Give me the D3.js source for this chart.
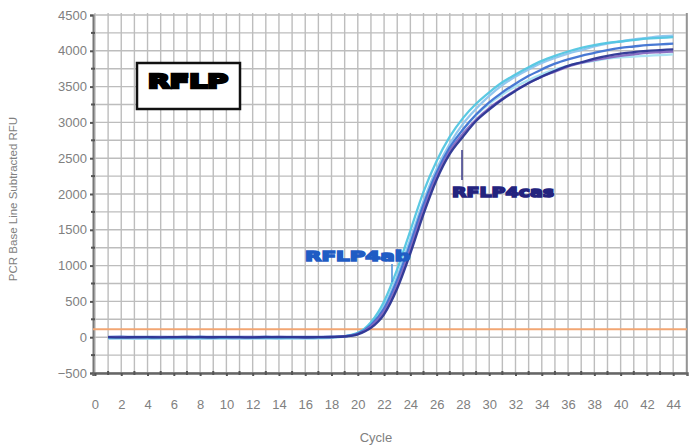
<!DOCTYPE html>
<html><head><meta charset="utf-8">
<script src="https://cdn.jsdelivr.net/npm/d3@7"></script>
<style>body{margin:0;background:#fff}svg{display:block}</style>
</head><body>
<svg id="c" width="696" height="445"></svg>
<script>
const cycles = d3.range(1, 45);
const base = [0,-3,2,0,-2,1,3,0,-1,2,0,-3,1,0,2,-1,0,3,10];
const serA = base.concat([40,130,320,680,1170,1720,2200,2560,2800,3020,3180,3320,3440,3550,3640,3720,3790,3840,3890,3930,3960,3980,4000,4010,4020]);
const serB = [2,0,-2,1,0,3,-1,0,2,1,-2,0,1,3,0,-1,2,1,12].concat([45,150,360,730,1230,1780,2250,2600,2840,3040,3200,3330,3450,3550,3640,3710,3780,3830,3870,3900,3930,3950,3970,3980,3990]);
const serC = [-8,-10,-6,-9,-7,-10,-8,-6,-9,-8,-7,-10,-8,-9,-6,-8,-5,0,15].concat([60,210,500,950,1490,2030,2460,2800,3060,3260,3420,3560,3670,3770,3860,3930,3990,4040,4080,4110,4130,4150,4170,4180,4190]);
const serD = [-15,-12,-14,-16,-13,-15,-12,-14,-15,-13,-16,-14,-12,-15,-13,-14,-10,-4,12].concat([55,180,430,850,1370,1900,2350,2700,2980,3190,3370,3520,3640,3740,3830,3900,3960,4010,4060,4100,4130,4160,4180,4200,4210]);
const serE = [4,6,3,5,4,2,5,6,3,4,5,3,6,4,5,3,4,6,14].concat([50,170,400,800,1310,1850,2300,2650,2900,3110,3280,3420,3540,3650,3740,3820,3880,3930,3970,4010,4040,4060,4080,4090,4100]);
const serF = [-20,-18,-22,-19,-21,-20,-18,-22,-20,-19,-21,-18,-20,-22,-19,-20,-16,-8,8].concat([50,160,380,770,1280,1820,2280,2640,2900,3100,3260,3390,3500,3590,3670,3740,3790,3830,3860,3890,3910,3920,3930,3940,3950]);
const seriesNames = ["F","D","C","E","B","A"];
const seriesValues = [serF, serD, serC, serE, serB, serA];
const seriesColors = ["#a6e2f2","#8cc4ee","#52c6e2","#3f72d2","#8467c0","#2b3593"];
const threshold = 110;
const xTicks = d3.range(0, 45, 2);
const yTicks = d3.range(-500, 4501, 500);
const yLabel = "PCR Base Line Subtracted RFU";
const xLabel = "Cycle";
const legendText = "RFLP";
const annot1 = "RFLP4ab";
const annot2 = "RFLP4cas";

const svg = d3.select("#c");
const L = 93, R = 687, T = 15, B = 373;
const x = d3.scaleLinear().domain([-0.15, 45.05]).range([L, R]);
const y = d3.scaleLinear().domain([-500, 4500]).range([B, T]);
const font = "Liberation Sans, Arial, sans-serif";

// grid
const g = svg.append("g");
g.selectAll(".vg").data(d3.range(0, 46)).join("line")
  .attr("x1", d => x(d)).attr("x2", d => x(d)).attr("y1", T - 2).attr("y2", B)
  .attr("stroke", "#bdbdbd").attr("stroke-width", 1.4);
g.selectAll(".hg").data(d3.range(-500, 4501, 250)).join("line")
  .attr("x1", L).attr("x2", R).attr("y1", d => y(d)).attr("y2", d => y(d))
  .attr("stroke", "#bdbdbd").attr("stroke-width", 1.4);

// right border
svg.append("line").attr("x1", R).attr("x2", R).attr("y1", T - 2).attr("y2", B)
  .attr("stroke", "#888").attr("stroke-width", 1.5);

// axes
const yAxis = d3.axisLeft(y).tickValues(yTicks).tickFormat(d3.format("d")).tickSize(3).tickPadding(3);
const ya = svg.append("g").attr("transform", `translate(${L},0)`).call(yAxis);
ya.select(".domain").attr("stroke", "#777").attr("stroke-width", 2);
ya.selectAll("text").attr("fill", "#808080").style("font-family", font).style("font-size", "13px");
ya.selectAll(".tick line").attr("stroke", "#555").attr("stroke-width", 2);
svg.append("g").selectAll("line").data(d3.range(-250, 4500, 500)).join("line")
  .attr("x1", L - 2).attr("x2", L + 2).attr("y1", d => y(d)).attr("y2", d => y(d))
  .attr("stroke", "#555").attr("stroke-width", 2);

const xAxis = d3.axisBottom(x).tickValues(xTicks).tickSize(3).tickPadding(24);
const xa = svg.append("g").attr("transform", `translate(0,${B})`).call(xAxis);
xa.select(".domain").attr("stroke", "#666").attr("stroke-width", 2.5);
xa.selectAll("text").attr("fill", "#808080").style("font-family", font).style("font-size", "13px");
xa.selectAll(".tick line").attr("stroke", "#555").attr("stroke-width", 2);
svg.append("g").selectAll("line").data(d3.range(1, 45, 2)).join("line")
  .attr("x1", d => x(d)).attr("x2", d => x(d)).attr("y1", B - 2).attr("y2", B + 2)
  .attr("stroke", "#555").attr("stroke-width", 2);

// threshold
svg.append("line").attr("x1", L).attr("x2", R).attr("y1", y(threshold)).attr("y2", y(threshold))
  .attr("stroke", "#f2a673").attr("stroke-width", 2);

// curves
const line = d3.line().x((d, i) => x(cycles[i])).y(d => y(d)).curve(d3.curveMonotoneX);
svg.append("g").selectAll("path").data(seriesValues).join("path")
  .attr("d", d => line(d)).attr("fill", "none")
  .attr("stroke", (d, i) => seriesColors[i]).attr("stroke-width", 2.3)
  .attr("opacity", 0.95);

// legend box
svg.append("rect").attr("x", 137).attr("y", 63).attr("width", 103).attr("height", 46)
  .attr("fill", "#fff").attr("stroke", "#111").attr("stroke-width", 2.5);
svg.append("text").attr("x", 188).attr("y", 88).attr("text-anchor", "middle")
  .attr("textLength", 80).attr("lengthAdjust", "spacingAndGlyphs")
  .style("font-family", "DejaVu Sans, sans-serif").style("font-weight", "bold").style("font-size", "20px")
  .attr("fill", "#000").attr("stroke", "#000").attr("stroke-width", 2.5).text(legendText);

// annotations
svg.append("line").attr("x1", 392).attr("x2", 392).attr("y1", 264).attr("y2", 282)
  .attr("stroke", "#4a8fd8").attr("stroke-width", 1.5);
svg.append("text").attr("x", 305).attr("y", 261).attr("textLength", 105).attr("lengthAdjust", "spacingAndGlyphs")
  .style("font-family", "DejaVu Sans, sans-serif").style("font-weight", "bold").style("font-size", "14px")
  .attr("fill", "#1f5cc4").attr("stroke", "#1f5cc4").attr("stroke-width", 1.5).text(annot1);
svg.append("line").attr("x1", 462).attr("x2", 462).attr("y1", 150).attr("y2", 180)
  .attr("stroke", "#3a3a8a").attr("stroke-width", 1.5);
svg.append("text").attr("x", 452).attr("y", 197).attr("textLength", 102).attr("lengthAdjust", "spacingAndGlyphs")
  .style("font-family", "DejaVu Sans, sans-serif").style("font-weight", "bold").style("font-size", "14px")
  .attr("fill", "#23237e").attr("stroke", "#23237e").attr("stroke-width", 1.5).text(annot2);

// axis titles
svg.append("text").attr("transform", `translate(17,${(T + B) / 2 + 5}) rotate(-90)`).attr("text-anchor", "middle")
  .style("font-family", font).style("font-size", "11.5px").attr("fill", "#808080").text(yLabel);
svg.append("text").attr("x", 376).attr("y", 442).attr("text-anchor", "middle")
  .style("font-family", font).style("font-size", "13px").attr("fill", "#808080").text(xLabel);
</script>
</body></html>
